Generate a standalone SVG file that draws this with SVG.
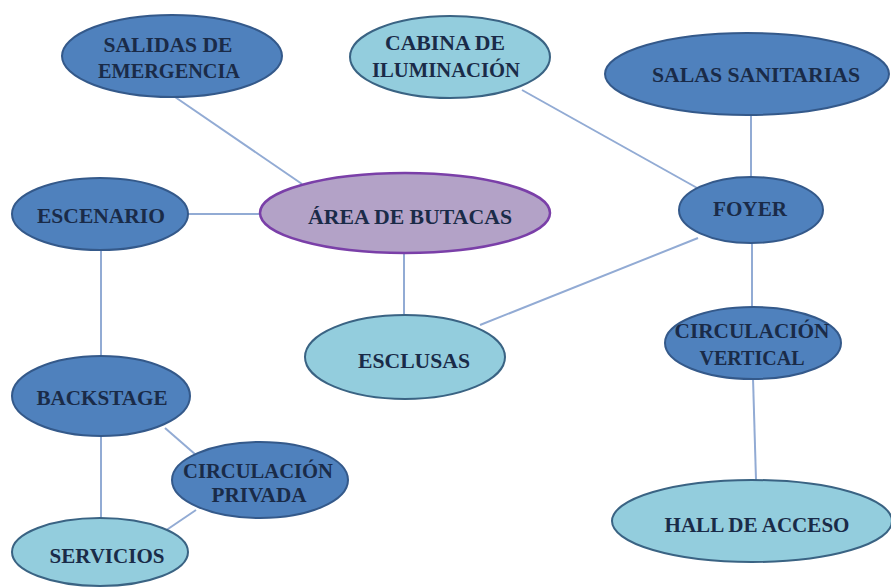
<svg xmlns="http://www.w3.org/2000/svg" width="891" height="587" viewBox="0 0 891 587">
<style>
.dark{fill:#4f81bd;stroke:#34598a;stroke-width:2}
.light{fill:#93cddd;stroke:#3a6383;stroke-width:2}
.purple{fill:#b3a2c7;stroke:#7a3fa8;stroke-width:2.5}
.lbl{font-family:"Liberation Serif","Times New Roman",serif;font-size:22px;font-weight:bold;fill:#1a2b48;text-anchor:middle}
.edge{stroke:#92abd4;stroke-width:2;fill:none}
</style>
<rect width="891" height="587" fill="#ffffff"/>
<g id="connectors">
<line class="edge" x1="175" y1="97" x2="302" y2="184"/>
<line class="edge" x1="522" y1="90" x2="699" y2="189"/>
<line class="edge" x1="751" y1="115" x2="751" y2="177"/>
<line class="edge" x1="188" y1="214" x2="260" y2="214"/>
<line class="edge" x1="101" y1="250" x2="101" y2="356"/>
<line class="edge" x1="404" y1="253" x2="404" y2="315"/>
<line class="edge" x1="480" y1="325" x2="698" y2="238"/>
<line class="edge" x1="752" y1="243" x2="752" y2="307"/>
<line class="edge" x1="753" y1="378" x2="756" y2="480"/>
<line class="edge" x1="165" y1="428" x2="196" y2="455"/>
<line class="edge" x1="101" y1="436" x2="101" y2="518"/>
<line class="edge" x1="165" y1="531" x2="196" y2="510"/>
</g>
<g id="salidas">
<ellipse class="dark" cx="172" cy="56" rx="110" ry="41"/>
<text class="lbl" x="168" y="52" textLength="129" lengthAdjust="spacingAndGlyphs">SALIDAS DE</text>
<text class="lbl" x="169" y="78" textLength="142" lengthAdjust="spacingAndGlyphs">EMERGENCIA</text>
</g>
<g id="cabina">
<ellipse class="light" cx="450" cy="57" rx="100" ry="41"/>
<text class="lbl" x="445" y="50" textLength="120" lengthAdjust="spacingAndGlyphs">CABINA DE</text>
<text class="lbl" x="446" y="77" textLength="148" lengthAdjust="spacingAndGlyphs">ILUMINACIÓN</text>
</g>
<g id="salas">
<ellipse class="dark" cx="747" cy="74" rx="142" ry="41"/>
<text class="lbl" x="756" y="82" textLength="208" lengthAdjust="spacingAndGlyphs">SALAS SANITARIAS</text>
</g>
<g id="foyer">
<ellipse class="dark" cx="751" cy="210" rx="72" ry="33"/>
<text class="lbl" x="750" y="216" textLength="74" lengthAdjust="spacingAndGlyphs">FOYER</text>
</g>
<g id="escenario">
<ellipse class="dark" cx="100" cy="214" rx="88" ry="36"/>
<text class="lbl" x="101" y="223" textLength="128" lengthAdjust="spacingAndGlyphs">ESCENARIO</text>
</g>
<g id="area">
<ellipse class="purple" cx="405" cy="213" rx="145" ry="40"/>
<text class="lbl" x="410" y="224" textLength="204" lengthAdjust="spacingAndGlyphs">ÁREA DE BUTACAS</text>
</g>
<g id="esclusas">
<ellipse class="light" cx="405" cy="357" rx="100" ry="42"/>
<text class="lbl" x="414" y="368" textLength="112" lengthAdjust="spacingAndGlyphs">ESCLUSAS</text>
</g>
<g id="circ_vertical">
<ellipse class="dark" cx="753" cy="343" rx="88" ry="36"/>
<text class="lbl" x="752" y="338" textLength="155" lengthAdjust="spacingAndGlyphs">CIRCULACIÓN</text>
<text class="lbl" x="752" y="365" textLength="105" lengthAdjust="spacingAndGlyphs">VERTICAL</text>
</g>
<g id="hall">
<ellipse class="light" cx="752" cy="521" rx="140" ry="41"/>
<text class="lbl" x="757" y="532" textLength="185" lengthAdjust="spacingAndGlyphs">HALL DE ACCESO</text>
</g>
<g id="backstage">
<ellipse class="dark" cx="101" cy="396" rx="89" ry="40"/>
<text class="lbl" x="102" y="405" textLength="131" lengthAdjust="spacingAndGlyphs">BACKSTAGE</text>
</g>
<g id="circ_privada">
<ellipse class="dark" cx="260" cy="480" rx="88" ry="38"/>
<text class="lbl" x="258" y="478" textLength="150" lengthAdjust="spacingAndGlyphs">CIRCULACIÓN</text>
<text class="lbl" x="259" y="502" textLength="95" lengthAdjust="spacingAndGlyphs">PRIVADA</text>
</g>
<g id="servicios">
<ellipse class="light" cx="100" cy="552" rx="88" ry="34"/>
<text class="lbl" x="107" y="563" textLength="115" lengthAdjust="spacingAndGlyphs">SERVICIOS</text>
</g>
</svg>
